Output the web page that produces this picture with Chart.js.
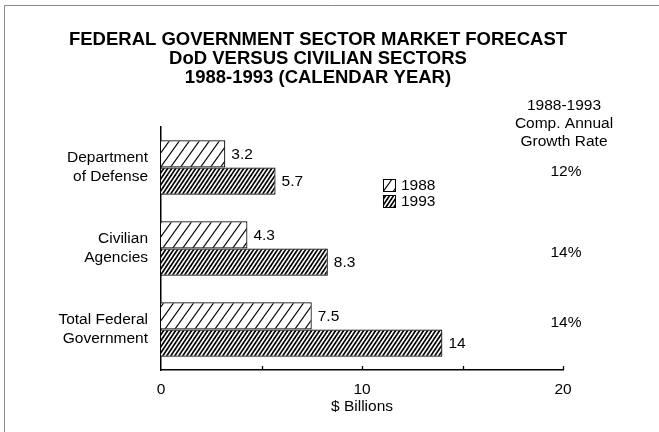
<!DOCTYPE html>
<html lang="en">
<head>
<meta charset="UTF-8">
<script src="https://cdn.jsdelivr.net/npm/chart.js@4"></script>
<style>
  html, body { margin: 0; padding: 0; background: #fff; }
  #wrap { width: 659px; height: 432px; position: relative; }
</style>
</head>
<body>
<div id="wrap"><canvas id="chart" width="659" height="432"></canvas></div>
<script>
const sectors = [['Department', 'of Defense'], ['Civilian', 'Agencies'], ['Total Federal', 'Government']];
const years = ['1988', '1993'];
const values1988 = [3.2, 4.3, 7.5];
const values1993 = [5.7, 8.3, 14];
const growthRates = ['12%', '14%', '14%'];
const titleLines = ['FEDERAL GOVERNMENT SECTOR MARKET FORECAST', 'DoD VERSUS CIVILIAN SECTORS', '1988-1993 (CALENDAR YEAR)'];
const growthHeader = ['1988-1993', 'Comp. Annual', 'Growth Rate'];
const xTicks = [0, 10, 20];

const FONT = '"Liberation Sans", Arial, Helvetica, sans-serif';
const canvas = document.getElementById('chart');
const ctx = canvas.getContext('2d');

// diagonal hatch, w = horizontal spacing, h = rise per spacing
function hatch(w, h, lw) {
    const c = document.createElement('canvas');
    c.width = w; c.height = h;
    const g = c.getContext('2d');
    g.fillStyle = '#fff';
    g.fillRect(0, 0, w, h);
    g.strokeStyle = '#000';
    g.lineWidth = lw;
    for (let k = -1; k <= 1; k++) {
        g.beginPath();
        g.moveTo(w * (k - 1), 2 * h);
        g.lineTo(w * (k + 2), -h);
        g.stroke();
    }
    return ctx.createPattern(c, 'repeat');
}

const lightHatch = hatch(10, 14, 1.1);
const denseHatch = hatch(4, 6, 1.7);

const annotations = {
    id: 'annotations',
    afterDraw(chart) {
        const c = chart.ctx;
        const x = chart.scales.x;
        const area = chart.chartArea;
        c.save();

        // frame
        c.strokeStyle = '#888';
        c.lineWidth = 1;
        c.beginPath();
        c.moveTo(4.5, 432);
        c.lineTo(4.5, 5.5);
        c.lineTo(659, 5.5);
        c.stroke();

        // inward tick marks
        c.strokeStyle = '#000';
        c.lineWidth = 1.3;
        [5, 10, 15, 20].forEach(v => {
            const px = Math.round(x.getPixelForValue(v)) + 0.5;
            c.beginPath();
            c.moveTo(px, area.bottom);
            c.lineTo(px, area.bottom - 4);
            c.stroke();
        });

        c.fillStyle = '#000';
        c.textAlign = 'center';
        c.textBaseline = 'middle';
        c.font = 'bold 18.5px ' + FONT;
        titleLines.forEach((t, i) => c.fillText(t, 318, 40 + i * 19));

        c.font = '15.5px ' + FONT;
        growthHeader.forEach((t, i) => c.fillText(t, 564, 106 + i * 18));
        const gy = [172, 253, 323];
        growthRates.forEach((t, i) => c.fillText(t, 566, gy[i]));

        // value labels
        c.textAlign = 'left';
        chart.data.datasets.forEach((ds, di) => {
            chart.getDatasetMeta(di).data.forEach((bar, i) => {
                c.fillText(String(ds.data[i]), bar.x + 6, bar.y + 1);
            });
        });

        // legend
        const fills = [lightHatch, denseHatch];
        years.forEach((y, i) => {
            const ly = 179 + i * 16;
            c.fillStyle = fills[i];
            c.fillRect(383, ly, 12, 12);
            c.strokeStyle = '#000';
            c.lineWidth = 1;
            c.strokeRect(383.5, ly + 0.5, 12, 12);
            c.fillStyle = '#000';
            c.fillText(y, 401, ly + 7);
        });
        c.restore();
    }
};

new Chart(canvas, {
    type: 'bar',
    data: {
        labels: sectors,
        datasets: [
            { label: years[0], data: values1988, backgroundColor: lightHatch, borderColor: '#000', borderWidth: 1.2 },
            { label: years[1], data: values1993, backgroundColor: denseHatch, borderColor: '#000', borderWidth: 1.2 }
        ]
    },
    options: {
        indexAxis: 'y',
        responsive: false,
        animation: false,
        layout: { padding: { left: 5, right: 96, top: 127, bottom: 16 } },
        plugins: { legend: { display: false }, title: { display: false }, tooltip: { enabled: false } },
        datasets: { bar: { barPercentage: 1, categoryPercentage: 0.67 } },
        scales: {
            x: {
                min: 0, max: 20,
                afterFit(s) { s.height = 46; },
                afterBuildTicks(s) { s.ticks = [0, 5, 10, 15, 20].map(v => ({ value: v })); },
                ticks: {
                    color: '#000', padding: 2, maxRotation: 0,
                    font: { family: FONT, size: 15.5 },
                    callback: v => xTicks.includes(v) ? String(v) : ''
                },
                grid: { display: false },
                border: { display: true, color: '#000', width: 1.5 },
                title: { display: true, text: '$ Billions', color: '#000', padding: 0, font: { family: FONT, size: 15.5 } }
            },
            y: {
                afterFit(s) { s.width = 156; },
                ticks: { color: '#000', padding: 5, font: { family: FONT, size: 15.5, lineHeight: 1.2 } },
                grid: { display: false },
                border: { display: true, color: '#000', width: 1.5 }
            }
        }
    },
    plugins: [annotations]
});
</script>
</body>
</html>
